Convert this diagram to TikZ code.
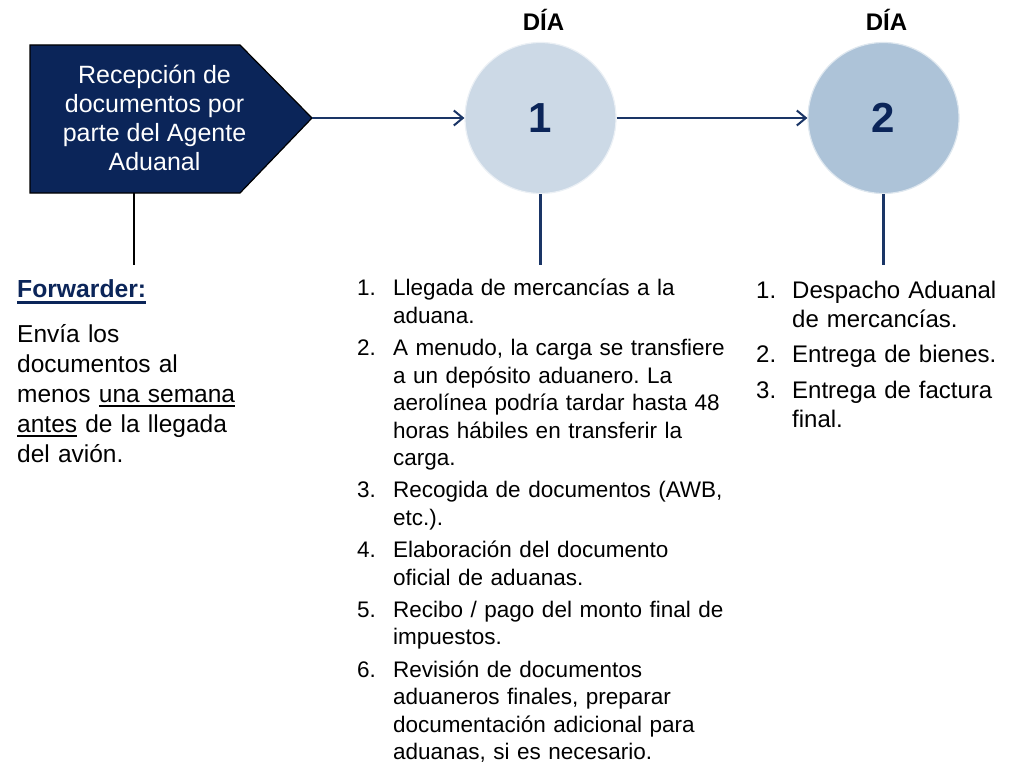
\documentclass[tikz,border=0pt]{standalone}
\usepackage{fontspec}
\setmainfont{Liberation Sans}
\usetikzlibrary{arrows.meta, positioning}
\frenchspacing

\definecolor{navy}{HTML}{0B2559}
\definecolor{dayone}{HTML}{CCD9E6}
\definecolor{daytwo}{HTML}{ADC3D8}
\definecolor{linkc}{HTML}{1A3566}

% underline: offset, thickness, text
\newcommand{\undr}[3]{\leavevmode\setbox0=\hbox{#3}\rlap{\rule[#1]{\wd0}{#2}}\box0\relax}
% numbered step with hanging indent
\newcommand{\stepno}[2]{\hangindent=36pt\hangafter=1\noindent\makebox[36pt][l]{#1.}#2\par}

\begin{document}
\begin{tikzpicture}[x=1pt, y=-1pt,
  day/.style={circle, minimum size=151pt, inner sep=0pt, fill=#1, draw=white!60!#1, line width=1.2pt, text=navy, font=\fontsize{42}{50}\selectfont\bfseries},
  daylabel/.style={inner sep=0pt, font=\fontsize{24}{29}\selectfont\bfseries},
  link/.style={draw=linkc, line width=2pt, -{Straight Barb[length=9pt, width=15pt, line width=2pt]}},
  stem/.style={draw=linkc, line width=2.2pt},
  steps/.style={anchor=base west, inner sep=0pt, align=left, text width=#1}]
\useasboundingbox (0,0) rectangle (1027,781);

\coordinate (tip) at (312,118);
\coordinate (boxfoot) at (134,193);
\coordinate (fwdfoot) at (134,265);
\filldraw[fill=navy, draw=black, line width=1.2pt] (30,45) -- (240,45) -- (tip) -- (240,193) -- (30,193) -- cycle;
\node[text=white, align=center, font=\fontsize{25}{29}\selectfont] (box) at (154.5,118) {Recepción de\\documentos por\\parte del Agente\\Aduanal};

\node[day=dayone] (d1) at (540.5,118) {1};
\node[day=daytwo] (d2) at (883.5,118) {2};
\node[daylabel, above=11pt of d1, xshift=3pt] (day1) {DÍA};
\node[daylabel, above=11pt of d2, xshift=3pt] (day2) {DÍA};
\coordinate (d1foot) at (540.5,265);
\coordinate (d2foot) at (883.5,265);

\draw[link] (tip) -- (d1);
\draw[link] (d1) -- (d2);
\draw[line width=1.8pt] (boxfoot) -- (fwdfoot);
\draw[stem] (d1) -- (d1foot);
\draw[stem] (d2) -- (d2foot);

% forwarder
\node[anchor=base west, inner sep=0pt, text=navy, font=\fontsize{24.7}{30}\selectfont\bfseries] (fwd) at (17,297) {\undr{-6.5pt}{2.6pt}{Forwarder:}};
\node[steps=240pt, font=\fontsize{24.5}{30}\selectfont] (fwdtext) at (17,342) {Envía los\\documentos al\\menos \undr{-5pt}{2pt}{una semana}\\\undr{-5pt}{2pt}{antes} de la llegada\\del avión.};

% dia 1
\node[steps=380pt, font=\fontsize{22.5}{27.6}\selectfont] (d1steps) at (357,295.7) {\setlength{\parskip}{4.5pt}%
\stepno{1}{Llegada de mercancías a la\newline aduana.}
\stepno{2}{A menudo, la carga se transfiere\newline a un depósito aduanero. La\newline aerolínea podría tardar hasta 48\newline horas hábiles en transferir la\newline carga.}
\stepno{3}{Recogida de documentos (AWB,\newline etc.).}
\stepno{4}{Elaboración del documento\newline oficial de aduanas.}
\stepno{5}{Recibo / pago del monto final de\newline impuestos.}
\stepno{6}{Revisión de documentos\newline aduaneros finales, preparar\newline documentación adicional para\newline aduanas, si es necesario.}};

% dia 2
\node[steps=260pt, font=\fontsize{24}{29}\selectfont] (d2steps) at (756,298.3) {\setlength{\parskip}{6.5pt}%
\stepno{1}{Despacho Aduanal\newline de mercancías.}
\stepno{2}{Entrega de bienes.}
\stepno{3}{Entrega de factura\newline final.}};
\end{tikzpicture}
\end{document}
